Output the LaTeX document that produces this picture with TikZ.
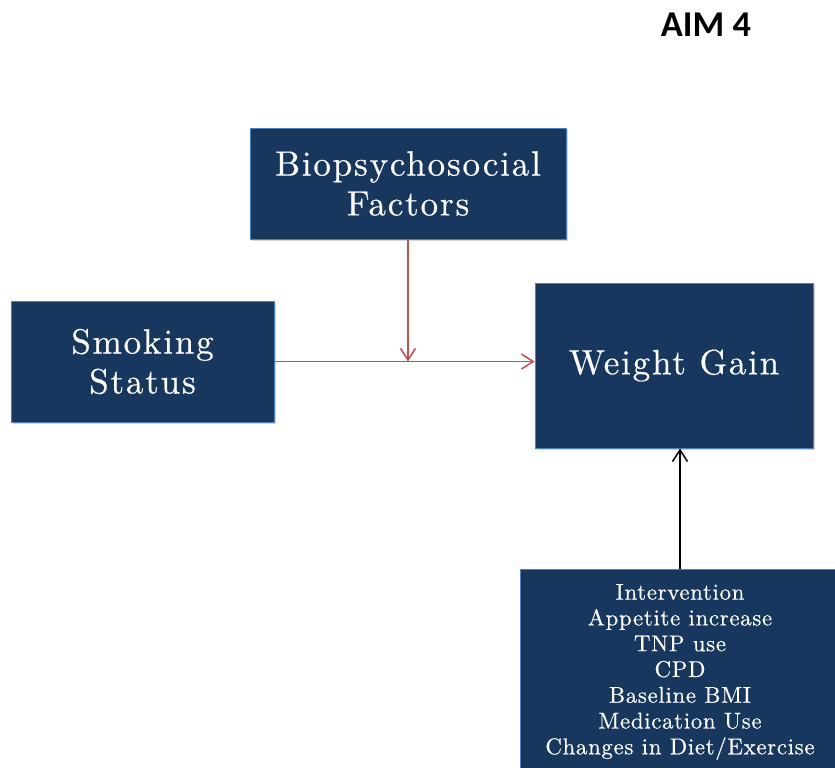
\documentclass[tikz,border=0pt]{standalone}
\usepackage{fontspec}
\usetikzlibrary{arrows.meta, positioning, shadows}
\usepackage{xcolor}
\newfontfamily\aimfont{Carlito}
\newfontfamily\boxfont{lmroman10-regular.otf}[LetterSpace=5, FakeBold=0.4]
\newfontfamily\listfont{lmroman10-regular.otf}[LetterSpace=3, FakeBold=0.4]
\definecolor{boxnavy}{HTML}{17375E}
\definecolor{boxedge}{HTML}{4F81BD}
\definecolor{linkred}{HTML}{C0504D}
\def\pxs{0.03}

\begin{document}
\begin{tikzpicture}[>={Straight Barb[length=3.5mm,width=4.5mm]}]
    \tikzstyle{factor}=[rectangle, fill=boxnavy, draw=boxedge, line width=0.8pt, text=white, align=center,
        drop shadow={opacity=0.35, shadow xshift=1.5pt, shadow yshift=-1.5pt}]
    \tikzstyle{big}=[factor, font=\boxfont\fontsize{30}{34}\selectfont]
    \tikzstyle{small}=[factor, font=\listfont\fontsize{19.5}{22}\selectfont]
    \tikzstyle{redlink}=[draw=linkred, line width=1.3pt, ->]
    \tikzstyle{blacklink}=[draw=black, line width=1.3pt, ->]

    \useasboundingbox (0,0) rectangle (835*\pxs,-767*\pxs);

    % Title
    \node[font=\aimfont\bfseries\fontsize{31}{34}\selectfont] (aim) at (706*\pxs,-25*\pxs) {AIM 4};

    % Draw the boxes
    \node[big, minimum width=316*\pxs cm, minimum height=111*\pxs cm] (bio) at (408*\pxs,-183.5*\pxs) {Biopsychosocial\\Factors};
    \node[big, minimum width=263*\pxs cm, minimum height=121*\pxs cm] (smoke) at (142.5*\pxs,-361.5*\pxs) {Smoking\\Status};
    \node[big, minimum width=278*\pxs cm, minimum height=165*\pxs cm] (weight) at (674*\pxs,-365.5*\pxs) {Weight Gain};
    \node[small, minimum width=320*\pxs cm, minimum height=206*\pxs cm] (covar) at (680*\pxs,-672*\pxs)
        {Intervention\\Appetite increase\\TNP use\\CPD\\Baseline BMI\\Medication Use\\Changes in Diet/Exercise};

    % Draw the arrows
    \coordinate (meet) at (bio.south |- smoke.east);
    \draw[redlink] (smoke.east) -- (weight.west |- smoke.east);
    \draw[redlink] (bio.south) -- (meet);
    \draw[blacklink] (covar.north) -- (covar.north |- weight.south);
\end{tikzpicture}
\end{document}
